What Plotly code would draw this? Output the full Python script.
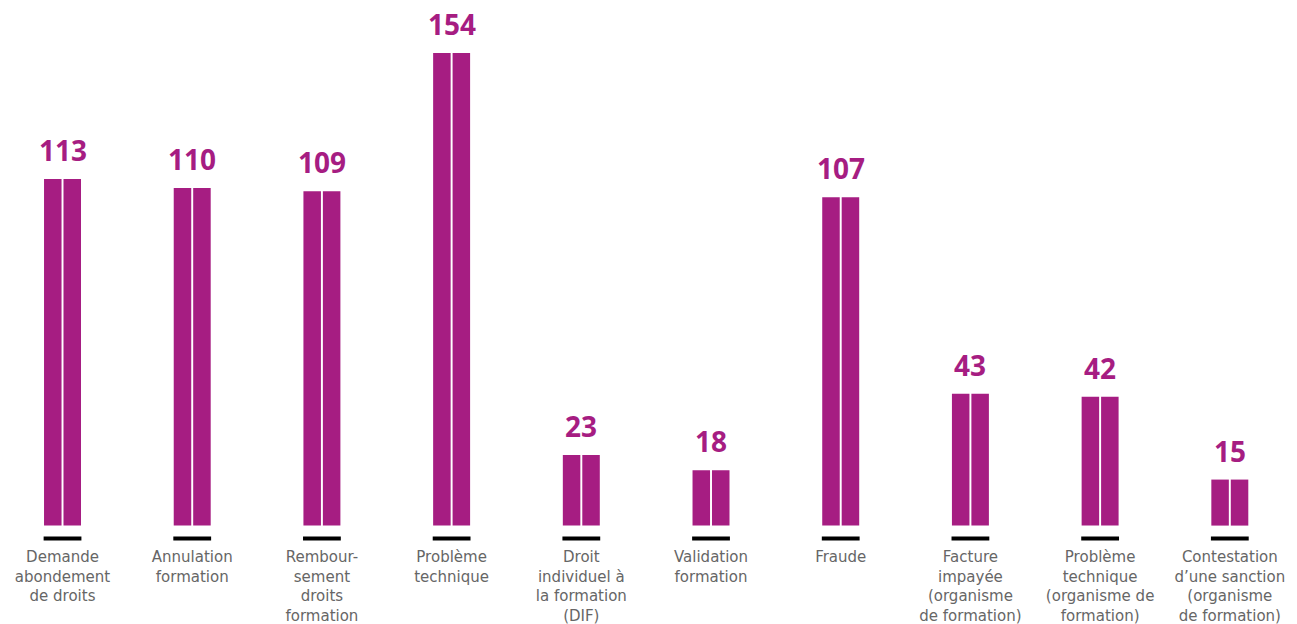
import plotly.graph_objects as go

categories = [
    "Demande<br>abondement<br>de droits",
    "Annulation<br>formation",
    "Rembour-<br>sement<br>droits<br>formation",
    "Problème<br>technique",
    "Droit<br>individuel à<br>la formation<br>(DIF)",
    "Validation<br>formation",
    "Fraude",
    "Facture<br>impayée<br>(organisme<br>de formation)",
    "Problème<br>technique<br>(organisme de<br>formation)",
    "Contestation<br>d’une sanction<br>(organisme<br>de formation)",
]
values = [113, 110, 109, 154, 23, 18, 107, 43, 42, 15]

MAGENTA = "#A61D82"
GREY = "#666666"

fig = go.Figure()

# each bar is drawn as two touching halves separated by a thin white gap
for _ in range(2):
    fig.add_trace(go.Bar(
        x=categories, y=values,
        marker=dict(color=MAGENTA, line=dict(width=0)),
        showlegend=False, hoverinfo="skip",
    ))

# short black rule under every bar
fig.add_trace(go.Scatter(
    x=categories, y=[-4.2] * len(categories),
    mode="markers",
    marker=dict(symbol="line-ew", size=27, line=dict(color="black", width=4)),
    showlegend=False, hoverinfo="skip",
))

# value labels above the bars
for c, v in zip(categories, values):
    fig.add_annotation(
        x=c, y=v, text=f"<b>{v}</b>", showarrow=False,
        yanchor="bottom", yshift=8,
        font=dict(family="Open Sans", size=28, color=MAGENTA),
    )

fig.update_layout(
    width=1297, height=624,
    margin=dict(l=0, r=0, t=0, b=80),
    paper_bgcolor="white", plot_bgcolor="white",
    barmode="group", bargap=0.70, bargroupgap=0.1,
    xaxis=dict(
        type="category", range=[-0.482, 9.518],
        showgrid=False, showline=False, zeroline=False, ticks="",
        ticklabelstandoff=2,
        tickfont=dict(family="DejaVu Sans", size=15, color=GREY),
    ),
    yaxis=dict(
        range=[-6, 171.3], visible=False,
        showgrid=False, zeroline=False,
    ),
)

fig.write_html("out.html")
